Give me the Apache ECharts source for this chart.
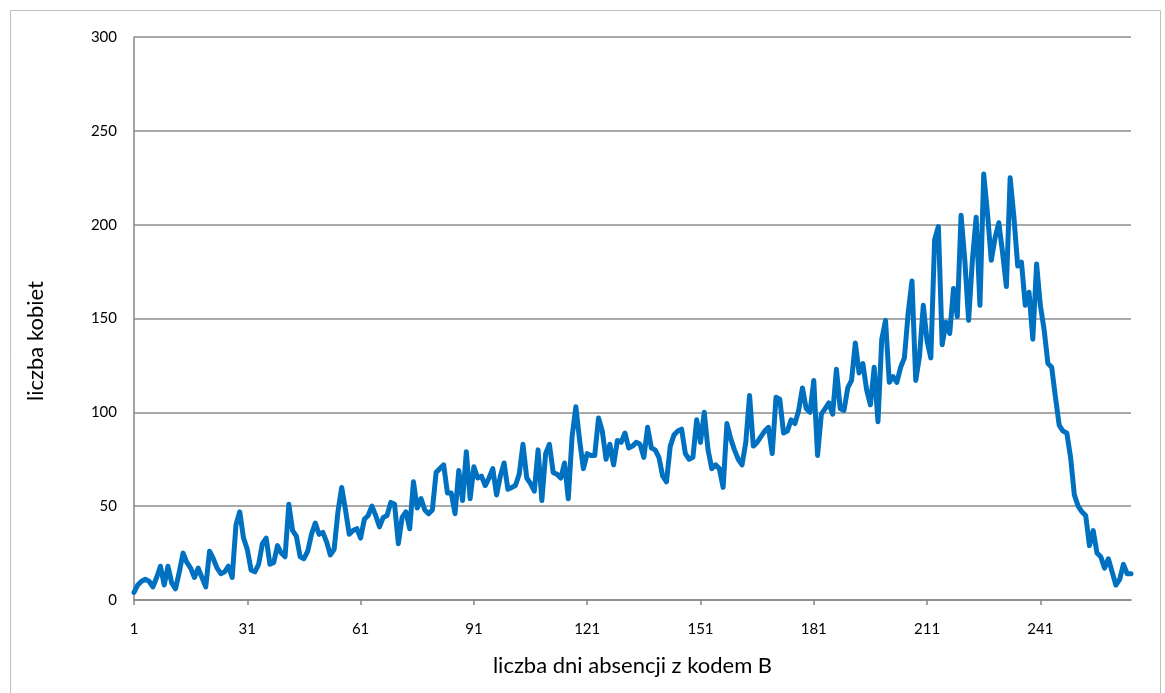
<!DOCTYPE html>
<html>
<head>
<meta charset="utf-8">
<script src="https://cdn.jsdelivr.net/npm/echarts@6/dist/echarts.min.js"></script>
<style>
html, body { margin: 0; padding: 0; background: #fff; }
#chart { width: 1165px; height: 693px; }
</style>
</head>
<body>
<div id="chart"></div>
<script>
// liczba kobiet wg liczby dni absencji z kodem B
var kobiety = [
  4, 8, 10, 11, 10, 7, 12, 18, 8, 18, 9, 6, 15, 25, 20, 17, 12, 17, 12, 7,
  26, 22, 17, 14, 15, 18, 12, 40, 47, 33, 27, 16, 15, 19, 30, 33, 19, 20, 29, 25,
  23, 51, 37, 34, 23, 22, 26, 35, 41, 35, 36, 31, 24, 27, 47, 60, 48, 35, 37, 38,
  33, 43, 45, 50, 45, 39, 44, 45, 52, 51, 30, 44, 47, 38, 63, 49, 54, 48, 46, 48,
  68, 70, 72, 57, 57, 46, 69, 53, 79, 54, 71, 65, 66, 61, 65, 70, 56, 66, 73, 59,
  60, 61, 67, 83, 65, 62, 58, 80, 53, 78, 83, 68, 67, 65, 73, 54, 87, 103, 85, 70,
  78, 77, 77, 97, 90, 75, 83, 72, 85, 84, 89, 81, 82, 84, 83, 76, 92, 81, 80, 76,
  66, 63, 82, 88, 90, 91, 78, 75, 76, 96, 84, 100, 80, 70, 72, 70, 60, 94, 86, 80,
  75, 72, 84, 109, 82, 84, 87, 90, 92, 78, 108, 107, 89, 90, 96, 94, 101, 113, 102, 100,
  117, 77, 99, 102, 105, 99, 123, 102, 101, 113, 117, 137, 121, 126, 112, 104, 124, 95, 139, 149,
  116, 119, 116, 124, 129, 153, 170, 117, 130, 157, 138, 129, 192, 199, 136, 148, 142, 166, 151, 205,
  181, 149, 181, 204, 157, 227, 206, 181, 193, 201, 185, 167, 225, 204, 178, 180, 157, 164, 139, 179,
  157, 144, 126, 124, 108, 93, 90, 89, 76, 56, 50, 47, 45, 29, 37, 25, 23, 17, 22, 15,
  8, 11, 19, 14, 14
];
var dni = [];
for (var i = 1; i <= kobiety.length; i++) {
  dni.push(String(i));
}

var chart = echarts.init(document.getElementById('chart'));
var font = 'Lato, "Liberation Sans", sans-serif';

var option = {
  animation: false,
  backgroundColor: '#fff',
  grid: {
    left: 134,
    right: 34,
    top: 37,
    bottom: 93
  },
  graphic: [
    {
      type: 'rect',
      shape: { x: 10.5, y: 10.5, width: 1150, height: 700 },
      style: { fill: null, stroke: '#bfbfbf', lineWidth: 1 },
      silent: true
    },
    {
      // tytul osi Y (troche nizej niz srodek osi, jak w oryginale)
      type: 'text',
      x: 36,
      y: 341,
      rotation: Math.PI / 2,
      style: {
        text: 'liczba kobiet',
        fontFamily: font,
        fontSize: 22,
        fill: '#000',
        align: 'center',
        verticalAlign: 'middle'
      },
      silent: true
    }
  ],
  xAxis: {
    type: 'category',
    data: dni,
    boundaryGap: false,
    name: 'liczba dni absencji z kodem B',
    nameLocation: 'middle',
    nameGap: 55,
    nameTextStyle: { fontFamily: font, fontSize: 22, color: '#000', verticalAlign: 'top' },
    axisLine: { lineStyle: { color: '#868686', width: 1.5 } },
    axisTick: { interval: 29, length: 5, lineStyle: { color: '#868686', width: 1.5 } },
    axisLabel: {
      interval: 29,
      margin: 22,
      fontFamily: font,
      fontSize: 15,
      color: '#000'
    },
    splitLine: { show: false }
  },
  yAxis: {
    type: 'value',
    min: 0,
    max: 300,
    interval: 50,
    axisLine: { show: true, lineStyle: { color: '#868686', width: 1.5 } },
    axisTick: { show: false },
    axisLabel: {
      margin: 17,
      fontFamily: font,
      fontSize: 15,
      color: '#000'
    },
    splitLine: { lineStyle: { color: '#8c8c8c', width: 1.5 } }
  },
  series: [
    {
      type: 'line',
      data: kobiety,
      showSymbol: false,
      symbol: 'none',
      smooth: false,
      lineStyle: { color: '#0070c0', width: 5, join: 'round', cap: 'round' }
    }
  ]
};

chart.setOption(option);
</script>
</body>
</html>
